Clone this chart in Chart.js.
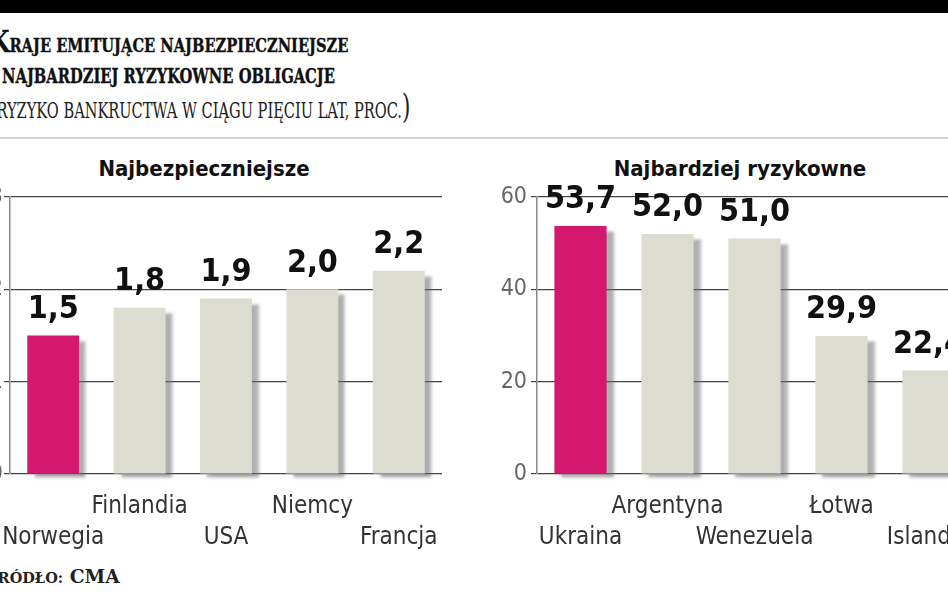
<!DOCTYPE html>
<html>
<head>
<meta charset="utf-8">
<script src="https://cdn.jsdelivr.net/npm/chart.js@4.4.0/dist/chart.umd.min.js"></script>
<style>
  html, body { margin: 0; padding: 0; background: #fff; }
  body { width: 948px; height: 593px; overflow: hidden; position: relative; }
  #topbar { position: absolute; left: 0; top: 0; width: 948px; height: 13px; background: #000; }
  #rule { position: absolute; left: 0; top: 137px; width: 948px; height: 2px; background: #d4d4d4; }
  .t { position: absolute; left: 0; white-space: nowrap; color: #111; transform-origin: 0 50%;
       font-family: "DejaVu Serif", serif; text-transform: uppercase; }
  #t1 { top: 28px; font-size: 29px; line-height: 29px; font-weight: bold; -webkit-text-stroke: 0.4px #111; }
  #t1 .sm { font-size: 19px; }
  #t2 { top: 65px; font-size: 21px; line-height: 21px; font-weight: bold; -webkit-text-stroke: 0.4px #111; }
  #t3 { top: 95px; font-size: 23px; line-height: 23px; color: #222; }
  #t3 .par { font-size: 34px; font-weight: 300; }
  #src { top: 568px; font-size: 18px; line-height: 18px; font-weight: bold; color: #222; }
  #src .sm { font-size: 14px; }
  .sub { position: absolute; top: 156px; font-family: "DejaVu Sans Condensed", "DejaVu Sans", sans-serif; font-weight: bold; font-size: 22px; color: #111; transform: translateX(-50%); white-space: nowrap; }
  .box { position: absolute; top: 140px; height: 420px; }
  #boxL { left: -50px; width: 500px; }
  #boxR { left: 477px; width: 505px; }
</style>
</head>
<body>
<div id="topbar"></div>
<div class="t" id="t1"><span class="cut">K</span><span class="sm">raje emitujące najbezpieczniejsze</span></div>
<div class="t" id="t2"><span class="cut">i </span>najbardziej ryzykowne obligacje</div>
<div class="t" id="t3"><span class="cut par">(</span>ryzyko bankructwa w ciągu pięciu lat, proc.<span class="par">)</span></div>
<div id="rule"></div>
<div class="sub" style="left:204px">Najbezpieczniejsze</div>
<div class="sub" style="left:740px">Najbardziej ryzykowne</div>
<div class="box" id="boxL"><canvas id="safe"></canvas></div>
<div class="box" id="boxR"><canvas id="risky"></canvas></div>
<div class="t" id="src"><span class="cut sm">Ź</span><span class="sm">ródło:</span> CMA</div>
<script>
// dane z wykresu
var safeCountries = ['Norwegia', 'Finlandia', 'USA', 'Niemcy', 'Francja'];
var safeValues = [1.5, 1.8, 1.9, 2.0, 2.2];
var safeTicks = [0, 1, 2, 3];

var riskyCountries = ['Ukraina', 'Argentyna', 'Wenezuela', 'Łotwa', 'Islandia'];
var riskyValues = [53.7, 52.0, 51.0, 29.9, 22.4];
var riskyTicks = [0, 20, 40, 60];

var PINK = '#d4176f';
var GREY = '#dcdcd0';

// zweza tekst do szerokosci z oryginalu i ucina pierwsze litery z lewej
function fitText(id, start, end) {
    var el = document.getElementById(id);
    var full = el.getBoundingClientRect().width;
    var pre = el.querySelector('.cut').getBoundingClientRect().width;
    var s = (end - start) / (full - pre);
    el.style.transform = 'scaleX(' + s + ')';
    el.style.left = (start - pre * s) + 'px';
}
fitText('t1', 9, 348);
fitText('t2', 2, 335);
fitText('t3', -4, 410);
fitText('src', -2, 120);

// etykiety w dwoch rzedach na przemian
function staggered(names) {
    return names.map(function (n, i) {
        return i % 2 === 0 ? [' ', n] : [n, ' '];
    });
}

var barDecor = {
    id: 'barDecor',
    beforeDatasetsDraw: function (chart) {
        var ctx = chart.ctx;
        ctx.save();
        ctx.shadowColor = 'rgba(110,110,110,0.55)';
        ctx.shadowBlur = 3;
        ctx.shadowOffsetX = 7;
        ctx.shadowOffsetY = 5;
    },
    afterDatasetsDraw: function (chart) {
        var ctx = chart.ctx;
        ctx.restore();
        ctx.save();
        ctx.font = 'bold 32px "DejaVu Sans Condensed", "DejaVu Sans", sans-serif';
        ctx.fillStyle = '#111';
        ctx.textAlign = 'center';
        ctx.textBaseline = 'bottom';
        var meta = chart.getDatasetMeta(0);
        var data = chart.data.datasets[0].data;
        meta.data.forEach(function (bar, i) {
            ctx.fillText(data[i].toFixed(1).replace('.', ','), bar.x, bar.y - 10);
        });
        ctx.restore();
    }
};

function makeChart(id, names, values, ticks, tickPad, padRight) {
    var colors = values.map(function (v, i) { return i === 0 ? PINK : GREY; });
    return new Chart(document.getElementById(id).getContext('2d'), {
        type: 'bar',
        data: {
            labels: staggered(names),
            datasets: [{
                data: values,
                backgroundColor: colors,
                borderWidth: 0,
                barPercentage: 0.6,
                categoryPercentage: 1.0,
                clip: false
            }]
        },
        options: {
            responsive: true,
            maintainAspectRatio: false,
            animation: false,
            layout: { padding: { top: 57, right: padRight, left: 0, bottom: 0 } },
            plugins: {
                legend: { display: false },
                tooltip: { enabled: false }
            },
            scales: {
                x: {
                    grid: { display: false, drawTicks: false },
                    border: { display: false },
                    ticks: {
                        color: '#333',
                        padding: 17,
                        maxRotation: 0,
                        autoSkip: false,
                        font: { family: '"DejaVu Sans Condensed", "DejaVu Sans", sans-serif', size: 24, lineHeight: 1.3 }
                    },
                    afterFit: function (scale) {
                        scale.height = 86;
                        scale.paddingLeft = 0;
                        scale.paddingRight = 0;
                    }
                },
                y: {
                    min: ticks[0],
                    max: ticks[ticks.length - 1],
                    afterBuildTicks: function (scale) {
                        scale.ticks = ticks.map(function (v) { return { value: v }; });
                    },
                    grid: { color: '#444', lineWidth: 1.2, tickLength: 6, tickColor: '#444' },
                    border: { color: '#888', width: 1.5 },
                    ticks: {
                        color: '#666',
                        padding: tickPad,
                        font: { family: '"DejaVu Sans Condensed", "DejaVu Sans", sans-serif', size: 23 }
                    },
                    afterFit: function (scale) { scale.width = 60; }
                }
            }
        },
        plugins: [barDecor]
    });
}

makeChart('safe', safeCountries, safeValues, safeTicks, 1, 8);
makeChart('risky', riskyCountries, riskyValues, riskyTicks, 4, 10);
</script>
</body>
</html>
